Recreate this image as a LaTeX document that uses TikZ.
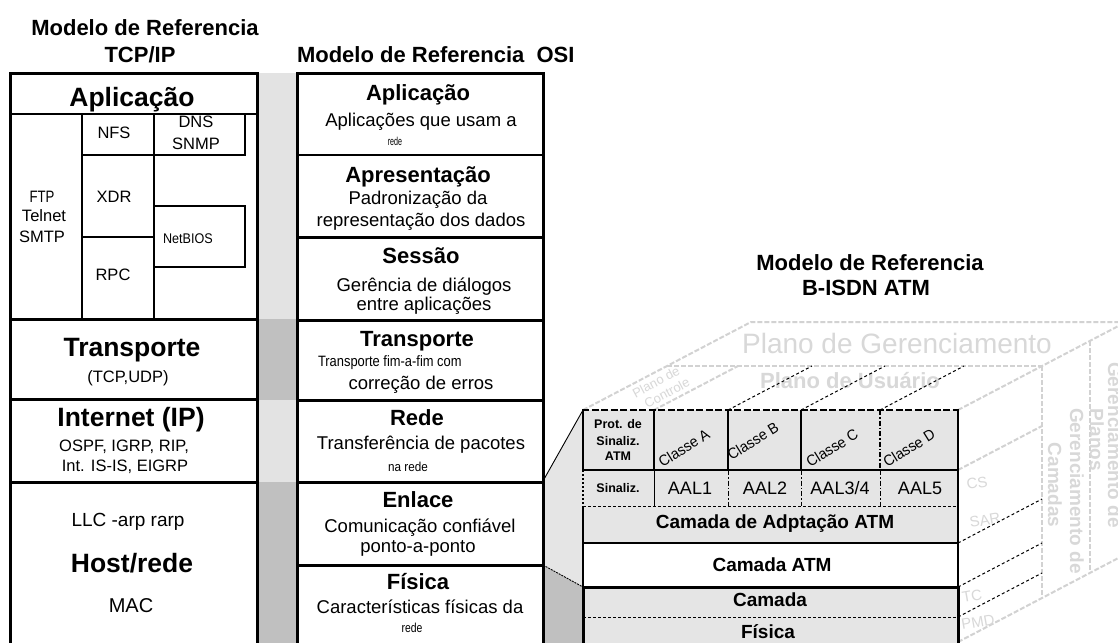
\documentclass[tikz,border=0pt]{standalone}
\usepackage{fontspec}
\setmainfont{Liberation Sans}
\usepackage{graphicx}
\newcommand\fz[1]{\fontsize{#1}{#1}\selectfont}
\newcommand\sqz[2]{\scalebox{#1}[1]{#2}}
\definecolor{lgray}{RGB}{227,227,227}
\definecolor{dgray}{RGB}{192,192,192}
\definecolor{agray}{RGB}{229,229,229}
\definecolor{fadeln}{RGB}{210,210,210}
\definecolor{fadetx}{RGB}{216,216,216}
\tikzset{
  hd/.style={font=\fz{22}\bfseries, text height=15.8pt, text depth=0pt},
  tt/.style={font=\fz{26.5}\bfseries, text height=19.1pt, text depth=0pt},
  tb/.style={font=\fz{16.5}, text height=11.9pt, text depth=0pt},
  ot/.style={font=\fz{22}\bfseries, text height=15.8pt, text depth=0pt},
  ob/.style={font=\fz{18.5}, text height=13.3pt, text depth=0pt},
  ab/.style={font=\fz{19}\bfseries, text height=13.7pt, text depth=0pt},
  ar/.style={font=\fz{18}, text height=13pt, text depth=0pt},
  sm/.style={font=\fz{12.5}\bfseries, text height=9pt, text depth=0pt},
  cls/.style={font=\fz{15}, rotate=32, text height=10.8pt, text depth=0pt},
  fl/.style={draw=fadeln, line width=2pt, dash pattern=on 5pt off 2pt},
  ft/.style={text=fadetx},
  bd/.style={draw=black, line width=1pt, dash pattern=on 3pt off 2.5pt},
  sepl/.style={line width=3pt},
  inl/.style={line width=1.6pt},
  dd/.style={dash pattern=on 5pt off 2pt on 1.5pt off 2pt},
}
\begin{document}
\begin{tikzpicture}[x=1pt,y=-1pt,every node/.style={inner sep=0pt,outer sep=0pt}]
\useasboundingbox (0,0) rectangle (1118,642);
\fill[white] (0,0) rectangle (1118,642);

% ---------- headings
\node[hd] (h1a) at (145,28) {Modelo de Referencia};
\node[hd] (h1b) at (140,55) {TCP/IP};
\node[hd,anchor=west] (h2) at (297,55) {Modelo de Referencia\ \ OSI};
\node[hd] (h3a) at (870,263) {Modelo de Referencia};
\node[hd] (h3b) at (866,288) {B-ISDN ATM};

% ---------- gray strip between TCP/IP and OSI
\fill[lgray] (257,73) rectangle (297,319);
\fill[dgray] (257,319) rectangle (297,400);
\fill[lgray] (257,400) rectangle (297,482);
\fill[dgray] (257,482) rectangle (297,650);

% ---------- connection OSI -> ATM
\coordinate (osiA) at (543,481);
\coordinate (atmTL) at (583,410);
\coordinate (osiB) at (543,565);
\coordinate (atmF) at (583,587);
\fill[agray] (osiA) -- (atmTL) -- (atmF) -- (osiB) -- cycle;
\fill[dgray] (osiB) -- (atmF) -- (583,650) -- (543,650) -- cycle;
\draw[line width=0.9pt] (osiA) -- (atmTL);
\draw[line width=0.9pt, dash pattern=on 2pt off 1pt] (osiB) -- (atmF);

% ---------- faded planes of the ATM cube
\draw[fl] (583,410) -- (751,322) -- (1130,322);
\draw[fl] (667,366) -- (1042,366);
\draw[fl] (958,410) -- (1126,322);
\draw[fl] (654,410) -- (738,366);
\draw[fl] (1042,366) -- (1042,598);
\draw[fl] (958,642) -- (1042,598) -- (1126,554);
\draw[fl] (1090,341) -- (1090,573);
\draw[fl] (958,470) -- (1042,426);

\node[ft,font=\fz{28},text height=20pt,text depth=0pt] (pg) at (897,343) {Plano de Gerenciamento};
\node[ft,font=\fz{22}\bfseries,text height=15.8pt,text depth=0pt] (pu) at (850,381) {Plano de Usuário};
\node[ft,font=\fz{13},rotate=28] (pc1) at (656,382) {Plano de};
\node[ft,font=\fz{13},rotate=28] (pc2) at (667,393) {Controle};
\node[ft,font=\fz{19}\bfseries,rotate=-90] (gc1) at (1077,491) {Gerenciamento de};
\node[ft,font=\fz{19}\bfseries,rotate=-90] (gc2) at (1055,485) {Camadas};
\node[ft,font=\fz{19}\bfseries,rotate=-90] (gp1) at (1115,445) {Gerenciamento de};
\node[ft,font=\fz{19}\bfseries,rotate=-90] (gp2) at (1097,440) {Planos};
\node[ft,font=\fz{15},rotate=10] (cs) at (977,483) {CS};
\node[ft,font=\fz{15},rotate=10] (sar) at (985,520) {SAR};
\node[ft,font=\fz{15},rotate=10] (tc) at (972,596) {TC};
\node[ft,font=\fz{15},rotate=10] (pmd) at (978,622) {PMD};

% black dotted depth lines
\draw[bd] (728,410) -- (812,366);
\draw[bd] (801,410) -- (885,366);
\draw[bd] (880,410) -- (964,366);
\draw[bd] (958,543) -- (1042,499);
\draw[bd] (958,587) -- (1042,543);
\draw[bd] (958,617) -- (1042,573);

% ---------- ATM front box
\fill[agray] (583,410) rectangle (958,543);
\fill[white] (583,543) rectangle (958,587);
\fill[agray] (583,587) rectangle (958,650);
\draw[line width=1.5pt] (583,410) -- (583,470);
\draw[line width=1.5pt, dash pattern=on 2pt off 2pt] (583,470) -- (583,506);
\draw[line width=1.3pt] (583,506) -- (583,587);
\draw[line width=3pt] (583,587) -- (583,650);
\draw[line width=1.5pt] (958,410) -- (958,587);
\draw[line width=3pt] (958,587) -- (958,650);
\draw[line width=2.5pt, dash pattern=on 7pt off 2.5pt] (582,410) -- (959,410);
\draw[line width=2.2pt] (583,470) -- (958,470);
\draw[line width=1pt, dash pattern=on 3pt off 2pt] (583,506) -- (958,506);
\draw[line width=1.8pt] (583,543) -- (958,543);
\draw[line width=3pt] (581.5,587) -- (959.5,587);
\draw[line width=1pt, dash pattern=on 3pt off 2pt] (583,617) -- (958,617);
\draw[line width=2.5pt] (654,410) -- (654,470);
\draw[line width=2.5pt] (728,410) -- (728,470);
\draw[line width=1.5pt] (801,410) -- (801,470);
\draw[line width=1.5pt, dd] (880,410) -- (880,470);
\draw[line width=1pt] (654,470) -- (654,506);
\draw[line width=1pt, dd] (728,470) -- (728,506);
\draw[line width=1pt, dd] (801,470) -- (801,506);
\draw[line width=1pt, dd] (880,470) -- (880,506);

\node[sm] (pr1) at (618,424) {Prot. de};
\node[sm] (pr2) at (618,441) {Sinaliz.};
\node[sm] (pr3) at (618,456) {ATM};
\node[cls] (ca) at (684,448) {\sqz{0.95}{Classe A}};
\node[cls] (cb) at (753,441) {\sqz{0.95}{Classe B}};
\node[cls] (cc) at (832,448) {\sqz{0.95}{Classe C}};
\node[cls] (cd) at (909,448) {\sqz{0.95}{Classe D}};
\node[sm] (sz) at (618,488) {Sinaliz.};
\node[ar] (aal1) at (690,488) {AAL1};
\node[ar] (aal2) at (765,488) {AAL2};
\node[ar] (aal34) at (840,488) {AAL3/4};
\node[ar] (aal5) at (920,488) {AAL5};
\node[ab] (cad) at (775,522) {Camada de Adptação ATM};
\node[ab] (catm) at (772,565) {Camada ATM};
\node[ab] (cf1) at (770,600) {Camada};
\node[ab] (cf2) at (768,632) {Física};

% ---------- TCP/IP column
\draw[line width=3pt] (10,650) -- (10,73) -- (257,73) -- (257,650);
\draw[sepl] (10,319) -- (257,319);
\draw[sepl] (10,399) -- (257,399);
\draw[sepl] (10,482) -- (257,482);
\draw[inl] (10,114) -- (257,114);
\draw[inl] (82,114) -- (82,319);
\draw[inl] (154,114) -- (154,319);
\draw[inl] (82,155) -- (245,155) -- (245,114);
\draw[inl] (82,237) -- (154,237);
\draw[inl] (154,206) rectangle (245,267);

\node[tt] (tapl) at (132,97) {Aplicação};
\node[tb] (nfs) at (114,133) {NFS};
\node[tb] (dns) at (196,122) {DNS};
\node[tb] (snmp) at (196,144) {SNMP};
\node[tb] (ftp) at (42,197) {\sqz{0.8}{FTP}};
\node[tb] (tel) at (44,216) {Telnet};
\node[tb] (smtp) at (42,237) {SMTP};
\node[tb] (xdr) at (114,197) {XDR};
\node[font=\fz{14},text height=10pt,text depth=0pt,anchor=west] (nb) at (163,238) {\sqz{0.9}{NetBIOS}};
\node[tb] (rpc) at (113,275) {RPC};
\node[tt] (ttra) at (132,347) {Transporte};
\node[tb] (tcpudp) at (128,377) {(TCP,UDP)};
\node[tt] (tint) at (131,417) {Internet (IP)};
\node[tb] (ospf) at (124,446) {OSPF, IGRP, RIP,};
\node[tb] (isis) at (125,466) {Int. IS-IS, EIGRP};
\node[font=\fz{19},text height=13.7pt,text depth=0pt] (llc) at (128,520) {LLC -arp rarp};
\node[tt] (thost) at (132,563) {Host/rede};
\node[font=\fz{20},text height=14.4pt,text depth=0pt] (mac) at (131,605) {MAC};

% ---------- OSI column
\draw[line width=3pt] (297,650) -- (297,73) -- (543,73) -- (543,650);
\draw[line width=2pt] (297,155) -- (543,155);
\draw[sepl] (297,237) -- (543,237);
\draw[sepl] (297,320) -- (543,320);
\draw[sepl] (297,400) -- (543,400);
\draw[sepl] (297,482) -- (543,482);
\draw[sepl] (297,565) -- (543,565);

\node[ot] (o1) at (418,93) {Aplicação};
\node[ob] (o1a) at (421,120) {Aplicações que usam a};
\node[font=\fz{11.5},text height=8.3pt,text depth=0pt] (o1b) at (395,141) {\sqz{0.62}{rede}};
\node[ot] (o2) at (418,175) {Apresentação};
\node[ob] (o2a) at (418,198) {Padronização da};
\node[ob] (o2b) at (421,220) {representação dos dados};
\node[ot] (o3) at (421,256) {Sessão};
\node[ob] (o3a) at (424,285) {Gerência de diálogos};
\node[ob] (o3b) at (424,304) {entre aplicações};
\node[ot] (o4) at (417,339) {Transporte};
\node[font=\fz{15},text height=10.8pt,text depth=0pt,anchor=west] (o4a) at (318,361) {\sqz{0.86}{Transporte fim-a-fim com}};
\node[ob] (o4b) at (421,383) {correção de erros};
\node[ot] (o5) at (417,418) {Rede};
\node[ob] (o5a) at (421,443) {Transferência de pacotes};
\node[font=\fz{13},text height=9.4pt,text depth=0pt] (o5b) at (408,467) {\sqz{0.9}{na rede}};
\node[ot] (o6) at (418,500) {Enlace};
\node[ob] (o6a) at (420,526) {Comunicação confiável};
\node[ob] (o6b) at (418,546) {ponto-a-ponto};
\node[ot] (o7) at (418,582) {Física};
\node[ob] (o7a) at (420,607) {Características físicas da};
\node[font=\fz{13},text height=9.4pt,text depth=0pt] (o7b) at (412,628) {\sqz{0.8}{rede}};
\end{tikzpicture}
\end{document}
